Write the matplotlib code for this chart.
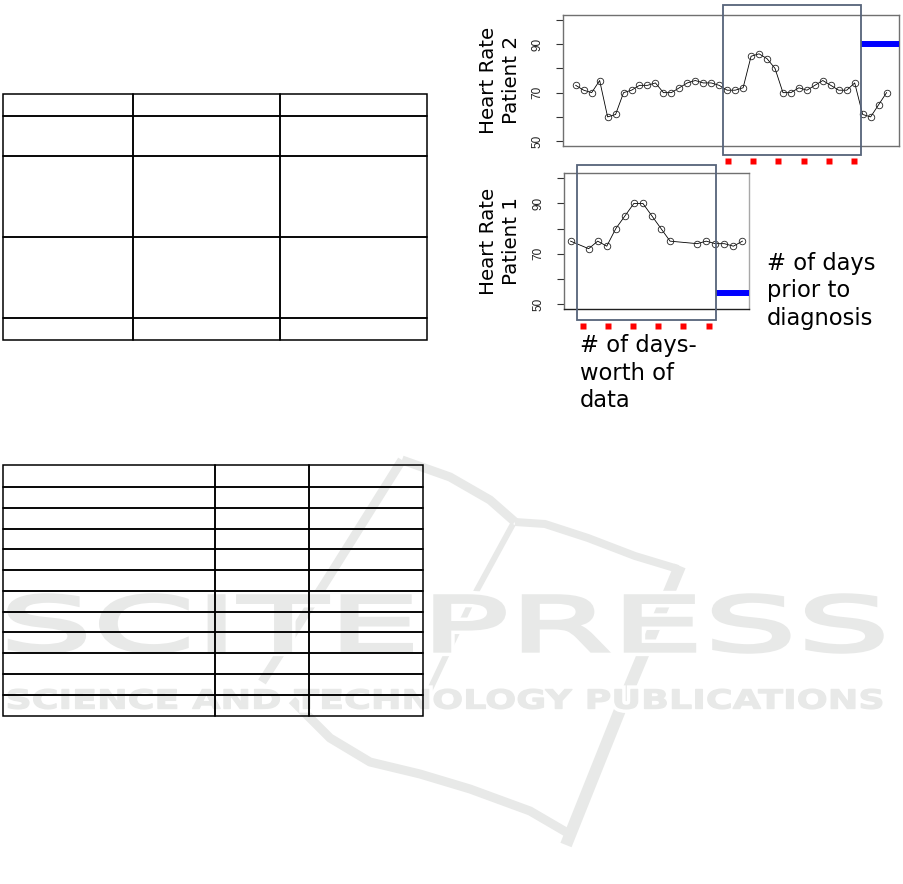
import matplotlib
matplotlib.use("Agg")
import matplotlib.pyplot as plt
from matplotlib.patches import Rectangle, PathPatch
from matplotlib.textpath import TextPath
from matplotlib.font_manager import FontProperties
from matplotlib.transforms import Affine2D

W, H = 904, 884  # page size in px

# heart rate series (day index, bpm)
p2_days = list(range(1, 41))
p2_hr = [73, 71, 70, 75, 60, 61, 70, 71, 73, 73, 74, 70, 70, 72, 74, 75, 74, 74, 73, 71,
         71, 72, 85, 86, 84, 80, 70, 70, 72, 71, 73, 75, 73, 71, 71, 74, 61, 60, 65, 70]
p1_days = [1, 3, 4, 5, 6, 7, 8, 9, 10, 11, 12, 15, 16, 17, 18, 19, 20]
p1_hr = [75, 72, 75, 73, 80, 85, 90, 90, 85, 80, 75, 74, 75, 74, 74, 73, 75]

hr_range = (50, 100)
hr_ticks = [50, 60, 70, 80, 90, 100]
hr_labels = ["50", "", "70", "", "90", ""]

# data window (days) and prediction gap marker
p2_window = (19.44, 36.83)
p2_window_y = (44.2, 106.1)
p2_gap_level = 90.2
p2_dash_x = [20.07, 23.2, 26.42, 29.6, 32.74, 35.91]
p2_dash_y = 41.9

p1_window = (1.68, 17.04)
p1_window_y = (43.6, 105.4)
p1_gap_level = 54.5
p1_dash_x = [2.34, 5.10, 7.93, 10.69, 13.46, 16.30]
p1_dash_y = 41.35

# empty tables: row heights / col widths in px
t1_rows = [21.7, 40.3, 81.0, 80.4, 22.3]
t1_cols = [130.3, 147.0, 146.7]
t2_rows = [21.7, 21.0, 21.0, 20.6, 20.7, 21.0, 20.7, 20.6, 20.7, 20.7, 21.3, 21.0]
t2_cols = [212.3, 94.0, 113.4]

# watermark strokes (page px)
wm_color = "#e8e9e8"
wm_strokes = [
    ([(402, 460), (450, 477), (490, 500), (515, 522)], 9),
    ([(515, 522), (545, 524), (588, 538), (635, 556), (678, 569)], 8),
    ([(680, 566), (622, 705), (566, 845)], 12),
    ([(402, 460), (330, 575), (262, 682)], 9),
    ([(513, 524), (477, 590), (425, 700)], 6),
    ([(292, 700), (330, 738), (370, 762), (420, 774), (470, 789), (530, 811), (566, 832)], 9),
]


def box(x0, y0, x1, y1):
    return [x0 / W, 1 - y1 / H, (x1 - x0) / W, (y1 - y0) / H]


def stretched_text(ax, s, x0, x1, y0, y1, weight, grow):
    tp = TextPath((0, 0), s, size=100, prop=FontProperties(family="DejaVu Sans", weight=weight))
    ext = tp.get_extents()
    tr = (Affine2D().translate(-ext.x0, -ext.y0)
          .scale((x1 - x0) / ext.width, -(y1 - y0) / ext.height)
          .translate(x0, y1))
    path = tr.transform_path(tp)
    ax.add_patch(PathPatch(path, fc="white", ec="white", lw=grow + 5, zorder=3))
    ax.add_patch(PathPatch(path, fc=wm_color, ec=wm_color, lw=grow, zorder=4))


fig = plt.figure(figsize=(W / 100, H / 100), dpi=100)

# page layer with watermark
page = fig.add_axes([0, 0, 1, 1])
page.set_xlim(0, W)
page.set_ylim(H, 0)
page.axis("off")
for pts, lw in wm_strokes:
    xs = [p[0] for p in pts]
    ys = [p[1] for p in pts]
    page.plot(xs, ys, color=wm_color, lw=lw * 0.72, solid_capstyle="butt", zorder=1)
stretched_text(page, "SCITEPRESS", 9, 882, 595, 652, "normal", 2.5)
stretched_text(page, "SCIENCE AND TECHNOLOGY PUBLICATIONS", 8, 882, 689, 709, "bold", 0.8)


def empty_table(rect, rows, cols):
    tax = fig.add_axes(rect)
    tax.axis("off")
    tb = tax.table(cellText=[[""] * len(cols) for _ in rows], bbox=[0, 0, 1, 1])
    for (r, c), cell in tb.get_celld().items():
        cell.set_height(rows[r])
        cell.set_width(cols[c])
        cell.set_linewidth(1.1)
        cell.set_edgecolor("black")
        cell.set_facecolor("none")
        cell.set_clip_on(False)
    return tax


empty_table(box(3, 94.3, 427, 340), t1_rows, t1_cols)
empty_table(box(3, 465, 422.7, 716), t2_rows, t2_cols)


def hr_panel(rect, days, hr, window, window_y, gap_level, dash_x, dash_y):
    ax = fig.add_axes(rect)
    span = max(days) - min(days)
    ax.set_xlim(min(days) - 0.04 * span, max(days) + 0.04 * span)
    pad = 0.04 * (hr_range[1] - hr_range[0])
    ax.set_ylim(hr_range[0] - pad, hr_range[1] + pad)
    ax.plot(days, hr, color="black", lw=0.6, marker="o", ms=4.7, mfc="none",
            mec="#222222", mew=0.6, zorder=3)
    ax.set_xticks([])
    ax.set_yticks(hr_ticks)
    ax.set_yticklabels(hr_labels, rotation=90, va="center", fontsize=8.5,
                       family="Liberation Sans", color="#222222")
    ax.tick_params(axis="y", direction="out", length=5, width=0.8, color="#333333", pad=9)
    for s in ax.spines.values():
        s.set_color("#707070")
        s.set_linewidth(1.0)
    ax.add_patch(Rectangle((window[0], window_y[0]), window[1] - window[0],
                           window_y[1] - window_y[0], fill=False, ec="#56637a",
                           lw=1.3, clip_on=False, zorder=5))
    ax.plot([window[1], ax.get_xlim()[1]], [gap_level, gap_level], color="#0000ff",
            lw=4.3, solid_capstyle="butt", clip_on=False, zorder=4)
    ax.plot(dash_x, [dash_y] * len(dash_x), "s", color="#ff0000", ms=5.0, mec="none",
            clip_on=False, zorder=4)
    return ax


ax2 = hr_panel(box(563.3, 15, 899, 146), p2_days, p2_hr, p2_window, p2_window_y,
               p2_gap_level, p2_dash_x, p2_dash_y)
ax1 = hr_panel(box(563.7, 173.3, 749.3, 309), p1_days, p1_hr, p1_window, p1_window_y,
               p1_gap_level, p1_dash_x, p1_dash_y)
ax1.spines["bottom"].set_color("#202020")
ax1.spines["right"].set_color("#a8a8a8")

fig.text(500 / W, 1 - 80 / H, "Heart Rate\nPatient 2", rotation=90, ha="center",
         va="center", fontsize=14.3, linespacing=1.3, multialignment="center")
fig.text(500 / W, 1 - 241.5 / H, "Heart Rate\nPatient 1", rotation=90, ha="center",
         va="center", fontsize=14.3, linespacing=1.3, multialignment="center")
fig.text(767 / W, 1 - 291 / H, "# of days\nprior to\ndiagnosis", ha="left",
         va="center", fontsize=16.3, linespacing=1.25)
fig.text(580 / W, 1 - 373 / H, "# of days-\nworth of\ndata", ha="left",
         va="center", fontsize=16.3, linespacing=1.25)

fig.savefig("out.png", dpi=100)
